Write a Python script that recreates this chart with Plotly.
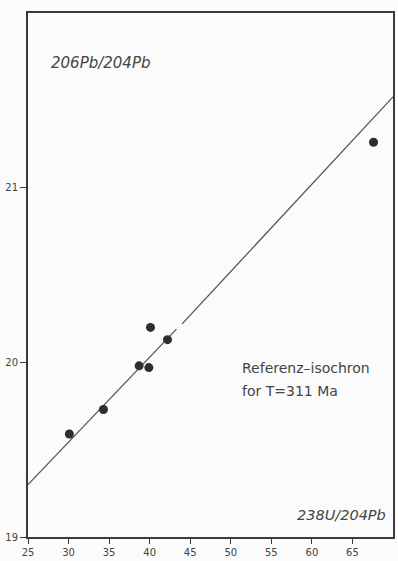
import plotly.graph_objects as go

# Data points: 238U/204Pb vs 206Pb/204Pb
u238_pb204 = [30.1, 34.3, 38.7, 39.9, 40.1, 42.2, 67.6]
pb206_pb204 = [19.59, 19.73, 19.98, 19.97, 20.20, 20.13, 21.26]

# Reference isochron (T = 311 Ma), drawn with a small gap as in the original
iso_x = [25, 43.3, None, 44.0, 70]
iso_y = [19.30, 20.19, None, 20.22, 21.52]

x_ticks = [25, 30, 35, 40, 45, 50, 55, 60, 65]
y_ticks = [19, 20, 21]

ink = "#3a3a3a"
fig = go.Figure()
fig.add_trace(go.Scatter(x=iso_x, y=iso_y, mode="lines",
                         line=dict(color="#555555", width=1.3),
                         connectgaps=False, showlegend=False, hoverinfo="skip"))
fig.add_trace(go.Scatter(x=u238_pb204, y=pb206_pb204, mode="markers",
                         marker=dict(color="#2e2e2e", size=9),
                         showlegend=False))

fig.update_layout(
    width=398, height=561,
    margin=dict(l=28, r=3, t=13, b=23),
    paper_bgcolor="#fbfbfb", plot_bgcolor="#fbfbfb",
    font=dict(family="DejaVu Sans, Liberation Sans, sans-serif", color=ink),
    xaxis=dict(range=[25, 70], tickvals=x_ticks, ticktext=[str(v) for v in x_ticks],
               showgrid=False, zeroline=False, showline=True, mirror=True,
               linecolor=ink, linewidth=2, ticks="outside", ticklen=5,
               tickcolor=ink, tickwidth=1, tickfont=dict(size=10, color="#444")),
    yaxis=dict(range=[19, 22], tickvals=y_ticks, ticktext=[str(v) for v in y_ticks],
               showgrid=False, zeroline=False, showline=True, mirror=True,
               linecolor=ink, linewidth=2, ticks="outside", ticklen=6,
               tickcolor=ink, tickwidth=1, tickfont=dict(size=10, color="#444")),
    annotations=[
        dict(x=0.058, y=0.905, xref="paper", yref="paper", xanchor="left", yanchor="middle",
             text="<i>206Pb/204Pb</i>", showarrow=False,
             font=dict(size=15, color="#444")),
        dict(x=0.985, y=0.042, xref="paper", yref="paper", xanchor="right", yanchor="middle",
             text="<i>238U/204Pb</i>", showarrow=False,
             font=dict(size=14.5, color="#444")),
        dict(x=0.58, y=0.322, xref="paper", yref="paper", xanchor="left", yanchor="middle",
             text="Referenz–isochron", showarrow=False,
             font=dict(size=14, color="#444")),
        dict(x=0.58, y=0.278, xref="paper", yref="paper", xanchor="left", yanchor="middle",
             text="for T=311 Ma", showarrow=False,
             font=dict(size=14, color="#444")),
    ],
)

fig.write_html("out.html", post_script="document.body.style.margin='0';",
               config={"displayModeBar": False})
